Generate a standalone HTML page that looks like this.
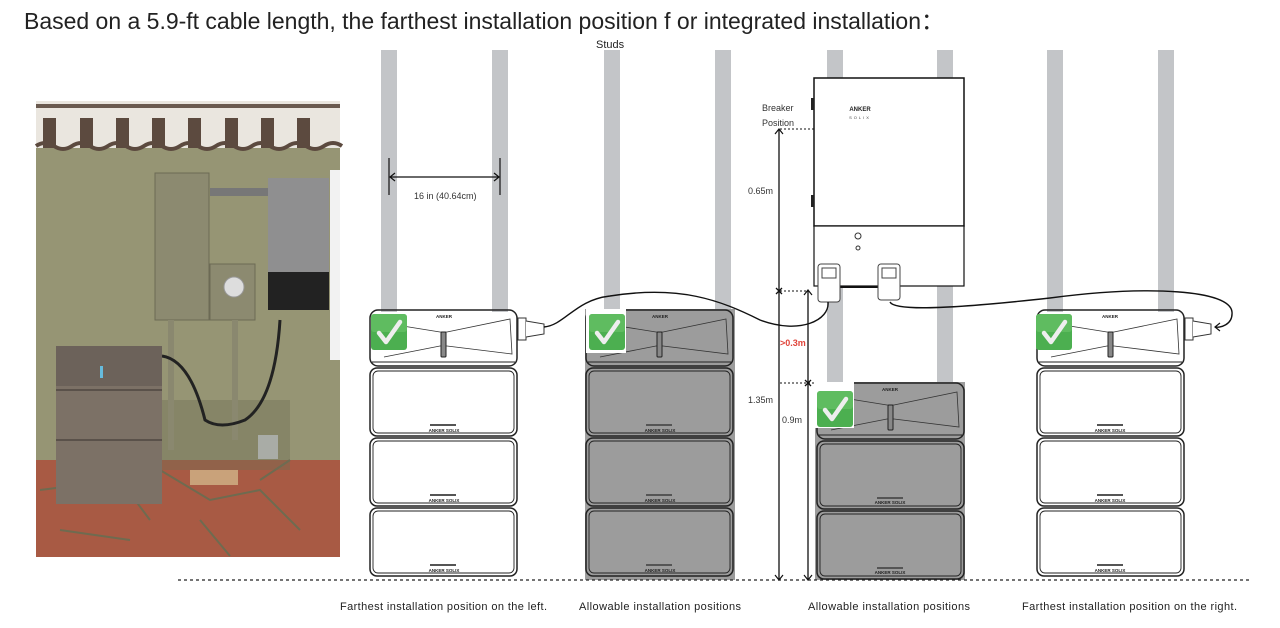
<!DOCTYPE html>
<html><head><meta charset="utf-8"><style>
html,body{margin:0;padding:0;background:#fff;width:1280px;height:628px;overflow:hidden}
svg{display:block;font-family:"Liberation Sans",sans-serif}
</style></head><body>
<svg width="1280" height="628" viewBox="0 0 1280 628" xmlns="http://www.w3.org/2000/svg">
<defs>
<g id="topmod">
  <rect x="0" y="0" width="147" height="56" rx="8" fill="none" stroke="#222" stroke-width="1.5"/>
  <line x1="2" y1="52" x2="145" y2="52" stroke="#222" stroke-width="1"/>
  <path d="M14 13 L70 22 L77 22 L140 9 L142 44 L77 36 L70 36 L14 47" fill="none" stroke="#333" stroke-width="0.8"/>
  <rect x="71" y="22" width="5" height="25" rx="1" fill="#888" stroke="#222" stroke-width="1"/>
</g>
<g id="mod">
  <rect x="0" y="0" width="147" height="68" rx="7" fill="none" stroke="#222" stroke-width="1.5"/>
  <rect x="3" y="3" width="141" height="62" rx="5" fill="none" stroke="#222" stroke-width="0.9"/>
  <rect x="60" y="56" width="26" height="2" fill="#555"/>
</g>
<g id="stack4">
  <use href="#topmod" x="0" y="0"/>
  <use href="#mod" x="0" y="58"/>
  <use href="#mod" x="0" y="128"/>
  <use href="#mod" x="0" y="198"/>
</g>
<g id="check">
  <rect x="0" y="0" width="36" height="36" rx="3" fill="#4caf50"/>
  <rect x="0" y="0" width="36" height="18" rx="3" fill="#6cc46a" opacity="0.6"/>
  <path d="M8 19 L15 28 L29 8" fill="none" stroke="#eee" stroke-width="4.5" stroke-linecap="round" stroke-linejoin="round"/>
</g>
<g id="conn">
  <rect x="0" y="0" width="8" height="22" fill="#fff" stroke="#333" stroke-width="1"/>
  <path d="M8 3 L26 6 L26 16 L8 19" fill="#fff" stroke="#333" stroke-width="1"/>
</g>
</defs>

<text x="24" y="29" font-size="23" fill="#222" textLength="920" lengthAdjust="spacing">Based on a 5.9-ft cable length, the farthest installation position f or integrated installation：</text>
<text x="596" y="48" font-size="11" fill="#222">Studs</text>

<!-- studs -->
<g fill="#c3c5c8">
  <rect x="381" y="50" width="16" height="262"/><rect x="492" y="50" width="16" height="262"/>
  <rect x="604" y="50" width="16" height="262"/><rect x="715" y="50" width="16" height="262"/>
  <rect x="827" y="50" width="16" height="334"/><rect x="937" y="50" width="16" height="334"/>
  <rect x="1047" y="50" width="16" height="262"/><rect x="1158" y="50" width="16" height="262"/>
</g>

<!-- 16 in -->
<line x1="389" y1="158" x2="389" y2="195" stroke="#111" stroke-width="1.2"/>
<line x1="500" y1="158" x2="500" y2="195" stroke="#111" stroke-width="1.2"/>
<line x1="390" y1="177" x2="499" y2="177" stroke="#111" stroke-width="1.2"/>
<path d="M395 173 L390 177 L395 181 M494 173 L499 177 L494 181" fill="none" stroke="#111" stroke-width="1.2"/>
<text x="414" y="199" font-size="9" fill="#333">16 in (40.64cm)</text>

<!-- photo -->
<g>
  <rect x="36" y="101" width="304" height="456" fill="#969574"/>
  <rect x="36" y="101" width="304" height="47" fill="#eae6df"/>
  <g fill="#5c4a3f">
    <rect x="43" y="118" width="13" height="30"/><rect x="80" y="118" width="13" height="30"/><rect x="116" y="118" width="13" height="30"/><rect x="152" y="118" width="13" height="30"/><rect x="188" y="118" width="13" height="30"/><rect x="225" y="118" width="13" height="30"/><rect x="261" y="118" width="13" height="30"/><rect x="297" y="118" width="13" height="30"/>
  </g>
  <rect x="36" y="104" width="304" height="4" fill="#6a5a4f"/>
  <path d="M36 146 Q45 140 54 146 T72 146 T90 146 T108 146 T126 146 T144 146 T162 146 T180 146 T198 146 T216 146 T234 146 T252 146 T270 146 T288 146 T306 146 T324 146 T342 146" fill="none" stroke="#5c4a3f" stroke-width="4"/>
  <rect x="36" y="460" width="304" height="97" fill="#a85a44"/>
  <path d="M40 490 L120 480 L150 520 M160 470 L210 500 L260 490 L300 530 M60 530 L130 540 M200 520 L230 556 M260 480 L290 460" stroke="#6e6b50" stroke-width="2" fill="none"/>
  <rect x="130" y="400" width="160" height="70" fill="#6f6e56" opacity="0.4"/>
  <rect x="155" y="173" width="54" height="147" fill="#8c8a70" stroke="#6c6a55"/>
  <rect x="210" y="264" width="45" height="56" fill="#8c8a70" stroke="#6c6a55"/>
  <circle cx="234" cy="287" r="10" fill="#ddd" stroke="#999"/>
  <rect x="210" y="188" width="62" height="8" fill="#777"/>
  <rect x="232" y="320" width="6" height="120" fill="#8a886f"/>
  <rect x="168" y="320" width="6" height="130" fill="#8a886f"/>
  <rect x="268" y="178" width="61" height="96" fill="#8f8f90"/>
  <rect x="268" y="272" width="61" height="38" fill="#222"/>
  <rect x="330" y="170" width="10" height="190" fill="#f2f2f2"/>
  <path d="M162 356 Q190 360 205 420 Q220 430 245 420 Q275 400 280 320" fill="none" stroke="#222" stroke-width="3"/>
  <rect x="56" y="346" width="106" height="158" fill="#7c7166"/>
  <rect x="56" y="346" width="106" height="40" fill="#6c625a"/>
  <line x1="56" y1="390" x2="162" y2="390" stroke="#5a514a" stroke-width="2"/>
  <line x1="56" y1="440" x2="162" y2="440" stroke="#5a514a" stroke-width="2"/>
  <rect x="100" y="366" width="3" height="12" fill="#6bd"/>
  <rect x="258" y="435" width="20" height="24" fill="#a9aca6"/>
  <rect x="190" y="470" width="48" height="15" fill="#c9a27a"/>
</g>

<!-- left stack -->
<use href="#stack4" x="370" y="310"/>
<use href="#check" x="371" y="314"/>
<use href="#conn" x="518" y="318"/>

<!-- gray stack -->
<rect x="585" y="309" width="150" height="271" fill="#9c9c9c"/>
<use href="#stack4" x="586" y="310"/>
<rect x="586" y="309" width="40" height="44" fill="#fff"/>
<use href="#check" x="589" y="314"/>

<!-- third stack -->
<rect x="815" y="382" width="150" height="198" fill="#9c9c9c"/>
<g transform="translate(817,383)">
  <use href="#topmod"/>
  <use href="#mod" y="58"/>
  <use href="#mod" y="128"/>
</g>
<rect x="814" y="382" width="40" height="46" fill="#fff"/>
<use href="#check" x="817" y="391"/>

<!-- right stack -->
<use href="#stack4" x="1037" y="310"/>
<use href="#check" x="1036" y="314"/>
<use href="#conn" x="1185" y="318"/>

<!-- tiny brand texts -->
<g font-size="4.5" fill="#222" text-anchor="middle" font-weight="bold">
  <text x="444" y="318">ANKER</text><text x="660" y="318">ANKER</text><text x="890" y="391">ANKER</text><text x="1110" y="318">ANKER</text>
  <text x="444" y="432">ANKER SOLIX</text><text x="444" y="502">ANKER SOLIX</text><text x="444" y="572">ANKER SOLIX</text>
  <text x="660" y="432">ANKER SOLIX</text><text x="660" y="502">ANKER SOLIX</text><text x="660" y="572">ANKER SOLIX</text>
  <text x="890" y="504">ANKER SOLIX</text><text x="890" y="574">ANKER SOLIX</text>
  <text x="1110" y="432">ANKER SOLIX</text><text x="1110" y="502">ANKER SOLIX</text><text x="1110" y="572">ANKER SOLIX</text>
</g>

<!-- gateway -->
<rect x="814" y="78" width="150" height="148" fill="#fff" stroke="#111" stroke-width="1.5"/>
<rect x="814" y="226" width="150" height="60" fill="#fff" stroke="#111" stroke-width="1.2"/>
<rect x="811" y="98" width="3" height="12" fill="#222"/><rect x="811" y="195" width="3" height="12" fill="#222"/>
<text x="860" y="111" font-size="6" font-weight="bold" fill="#222" text-anchor="middle">ANKER</text>
<text x="860" y="119" font-size="4" fill="#444" text-anchor="middle" letter-spacing="2">SOLIX</text>
<circle cx="858" cy="236" r="3" fill="none" stroke="#333"/><circle cx="858" cy="248" r="2" fill="none" stroke="#333"/>
<line x1="838" y1="287" x2="878" y2="287" stroke="#111" stroke-width="2"/>
<rect x="818" y="264" width="22" height="38" rx="3" fill="#fff" stroke="#444"/>
<rect x="822" y="268" width="14" height="10" fill="#fff" stroke="#444"/>
<rect x="878" y="264" width="22" height="36" rx="3" fill="#fff" stroke="#444"/>
<rect x="882" y="268" width="14" height="10" fill="#fff" stroke="#444"/>

<!-- cables -->
<path d="M544 327 C565 325 575 300 610 296 C680 285 720 300 760 320 C800 335 830 320 828 302" fill="none" stroke="#111" stroke-width="1.4"/>
<path d="M890 302 C895 312 960 308 1050 298 C1150 285 1230 290 1232 312 C1233 325 1220 328 1215 327" fill="none" stroke="#111" stroke-width="1.4"/>
<path d="M1220 323 L1215 327 L1220 331" fill="none" stroke="#111" stroke-width="1.2"/>

<!-- dimension lines -->
<text x="762" y="111" font-size="9" fill="#333">Breaker</text>
<text x="762" y="126" font-size="9" fill="#333">Position</text>
<line x1="780" y1="129" x2="814" y2="129" stroke="#111" stroke-dasharray="2,2"/>
<line x1="779" y1="130" x2="779" y2="580" stroke="#111" stroke-width="1.3"/>
<path d="M775 134 L779 129 L783 134" fill="none" stroke="#111" stroke-width="1.2"/>
<line x1="808" y1="291" x2="808" y2="580" stroke="#111" stroke-width="1.3"/>
<path d="M804 295 L808 290 L812 295" fill="none" stroke="#111" stroke-width="1.2"/>
<line x1="780" y1="291" x2="808" y2="291" stroke="#111" stroke-dasharray="2,2"/>
<path d="M776 288 L782 294 M782 288 L776 294" stroke="#111" stroke-width="1.3"/>
<line x1="780" y1="383" x2="816" y2="383" stroke="#111" stroke-dasharray="2,2"/>
<path d="M805 380 L811 386 M811 380 L805 386" stroke="#111" stroke-width="1.3"/>
<path d="M775 575 L779 580 L783 575 M804 575 L808 580 L812 575" fill="none" stroke="#111" stroke-width="1.2"/>
<text x="748" y="194" font-size="9" fill="#333">0.65m</text>
<text x="780" y="346" font-size="9" fill="#e0443a" font-weight="bold">&gt;0.3m</text>
<text x="748" y="403" font-size="9" fill="#333">1.35m</text>
<text x="782" y="423" font-size="9" fill="#333">0.9m</text>

<!-- ground -->
<line x1="178" y1="580" x2="1252" y2="580" stroke="#222" stroke-width="1.2" stroke-dasharray="3,3"/>

<g font-size="11" fill="#222">
  <text x="340" y="610" textLength="207" lengthAdjust="spacing">Farthest installation position on the left.</text>
  <text x="579" y="610" textLength="162" lengthAdjust="spacing">Allowable installation positions</text>
  <text x="808" y="610" textLength="162" lengthAdjust="spacing">Allowable installation positions</text>
  <text x="1022" y="610" textLength="215" lengthAdjust="spacing">Farthest installation position on the right.</text>
</g>
</svg>
</body></html>
